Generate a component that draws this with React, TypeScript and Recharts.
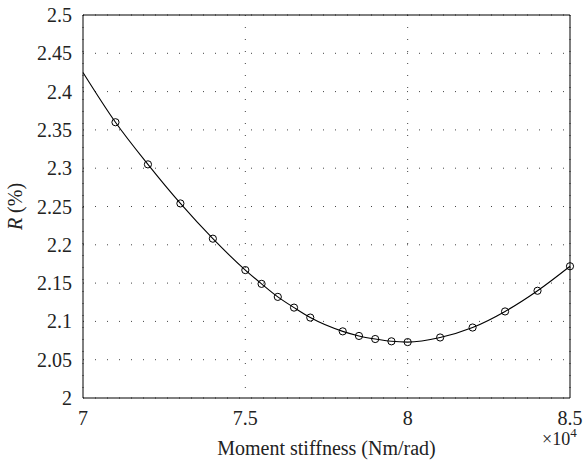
import React from 'react';
import { ComposedChart, Line, XAxis, YAxis, CartesianGrid } from 'recharts';

// moment stiffness (x 10^4 Nm/rad) and R (%)
const stiffness = [7.0, 7.1, 7.2, 7.3, 7.4, 7.5, 7.55, 7.6, 7.65, 7.7, 7.8, 7.85, 7.9, 7.95, 8.0, 8.1, 8.2, 8.3, 8.4, 8.5];
const ratio = [2.425, 2.36, 2.305, 2.254, 2.208, 2.167, 2.149, 2.132, 2.118, 2.105, 2.087, 2.081, 2.077, 2.074, 2.073, 2.079, 2.092, 2.113, 2.14, 2.172];
// first point is only the start of the fitted curve, no marker
const hasMarker = [false, true, true, true, true, true, true, true, true, true, true, true, true, true, true, true, true, true, true, true];

const xTicks = [7, 7.5, 8, 8.5];
const yTicks = [2, 2.05, 2.1, 2.15, 2.2, 2.25, 2.3, 2.35, 2.4, 2.45, 2.5];

const data = stiffness.map((s, i) => ({ s, r: ratio[i], m: hasMarker[i] }));

const FONT = '"Liberation Serif", "DejaVu Serif", serif';
const TEXT = '#222';
const fmt = (v: number) => String(Number(v.toFixed(2)));

const XTick = (p: any) => (
  <text x={p.x} y={p.y} dy="0.71em" textAnchor="middle" fontFamily={FONT} fontSize={20} fill={TEXT}>
    {fmt(p.payload.value)}
  </text>
);

const YTick = (p: any) => (
  <text x={p.x} y={p.y} dy="0.35em" textAnchor="end" fontFamily={FONT} fontSize={20} fill={TEXT}>
    {fmt(p.payload.value)}
  </text>
);

const XTitle = (props: any) => {
  const { x, y, width } = props.viewBox;
  return (
    <g fontFamily={FONT} fill={TEXT}>
      <text x={x + width / 2} y={y + 57} fontSize={20} textAnchor="middle">
        Moment stiffness (Nm/rad)
      </text>
      <text x={x + width - 28} y={y + 47} fontSize={18}>
        ×10<tspan fontSize={13} dy={-8}>4</tspan>
      </text>
    </g>
  );
};

const YTitle = (props: any) => {
  const { x, y, height } = props.viewBox;
  const cx = x + 22;
  const cy = y + height / 2;
  return (
    <text
      x={cx}
      y={cy}
      transform={`rotate(-90 ${cx} ${cy})`}
      textAnchor="middle"
      fontFamily={FONT}
      fontSize={20}
      fill={TEXT}
    >
      <tspan fontStyle="italic">R</tspan> (%)
    </text>
  );
};

const renderDot = (p: any) => {
  if (!p.payload.m) return <g key={p.index} />;
  return <circle key={p.index} cx={p.cx} cy={p.cy} r={3.6} fill="none" stroke="#000" strokeWidth={1} />;
};

export default function App() {
  return (
    <div style={{ position: 'absolute', left: 0, top: 0, background: '#fff' }}>
      <ComposedChart width={584} height={462} data={data} margin={{ top: 15, right: 14, bottom: 0, left: 0 }}>
        <CartesianGrid stroke="#444" strokeDasharray="1 11" />
        <XAxis
          dataKey="s"
          type="number"
          domain={[7, 8.5]}
          ticks={xTicks}
          tick={<XTick />}
          tickLine={false}
          tickSize={0}
          tickMargin={13}
          height={64}
          axisLine={{ stroke: '#000' }}
          label={<XTitle />}
        />
        <YAxis
          type="number"
          domain={[2, 2.5]}
          ticks={yTicks}
          tick={<YTick />}
          tickLine={false}
          tickSize={0}
          tickMargin={11}
          width={83}
          axisLine={{ stroke: '#000' }}
          label={<YTitle />}
        />
        {/* inward tick marks and the box around the plot */}
        <XAxis xAxisId="bin" orientation="bottom" mirror type="number" domain={[7, 8.5]} ticks={xTicks} tick={false} tickSize={5} axisLine={false} tickLine={{ stroke: '#000' }} />
        <XAxis xAxisId="top" orientation="top" mirror type="number" domain={[7, 8.5]} ticks={xTicks} tick={false} tickSize={5} axisLine={{ stroke: '#000' }} tickLine={{ stroke: '#000' }} />
        <YAxis yAxisId="lin" orientation="left" mirror type="number" domain={[2, 2.5]} ticks={yTicks} tick={false} tickSize={5} axisLine={false} tickLine={{ stroke: '#000' }} />
        <YAxis yAxisId="right" orientation="right" mirror type="number" domain={[2, 2.5]} ticks={yTicks} tick={false} tickSize={5} axisLine={{ stroke: '#000' }} tickLine={{ stroke: '#000' }} />
        <Line
          dataKey="r"
          type="monotone"
          stroke="#000"
          strokeWidth={1.1}
          dot={renderDot}
          activeDot={false}
          isAnimationActive={false}
        />
      </ComposedChart>
    </div>
  );
}
